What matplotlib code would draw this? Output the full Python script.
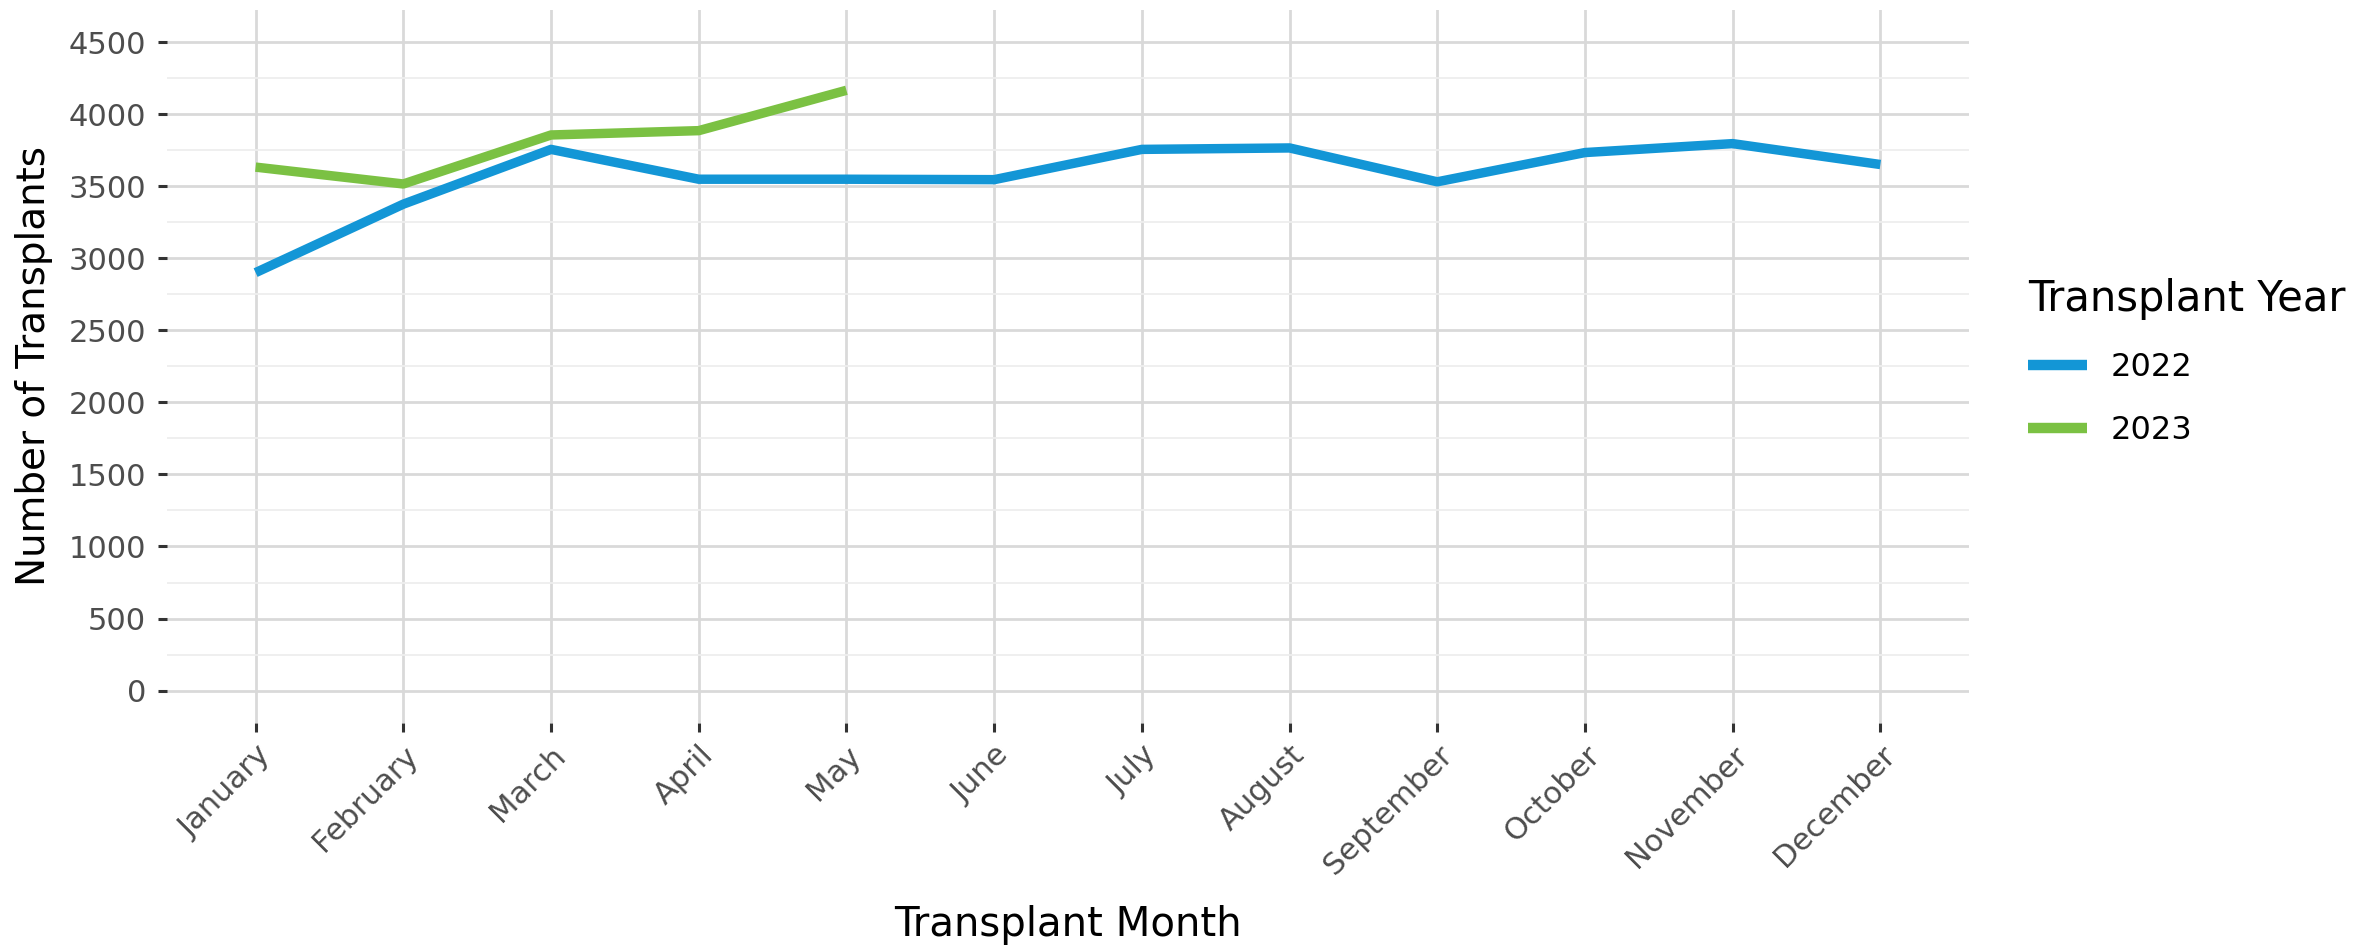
import matplotlib
matplotlib.use("Agg")
import matplotlib.pyplot as plt
import numpy as np

months = ["January", "February", "March", "April", "May", "June", "July",
          "August", "September", "October", "November", "December"]
counts_2022 = [2900, 3375, 3755, 3548, 3548, 3545, 3755, 3765, 3530, 3733, 3795, 3650]
counts_2023 = [3632, 3515, 3855, 3885, 4165]
years = ["2022", "2023"]
colors = ["#1396d6", "#7bc143"]
y_ticks = list(range(0, 4501, 500))

plt.rcParams['font.family'] = ['DejaVu Sans']

fig = plt.figure(figsize=(23.72, 9.48), dpi=100)
ax = fig.add_axes([0.0704, 0.2373, 0.7597, 0.7526])

x = np.arange(len(months))
for yr, vals, col in zip(years, [counts_2022, counts_2023], colors):
    ax.plot(x[:len(vals)], vals, color=col, lw=6.8, label=yr,
            solid_capstyle='butt', solid_joinstyle='round', zorder=3)

ax.set_xlim(-0.6, len(months) - 1 + 0.6)
ax.set_ylim(-225, 4725)
ax.set_xticks(x)
ax.set_xticklabels(months, rotation=45, ha='right', va='top', rotation_mode='anchor')
ax.set_yticks(y_ticks)
ax.set_yticks([v + 250 for v in y_ticks[:-1]], minor=True)

# ggplot minimal-ish look
for s in ax.spines.values():
    s.set_visible(False)
ax.grid(which='major', axis='both', color='#d9d9d9', lw=2.0)
ax.grid(which='minor', axis='y', color='#eeeeee', lw=1.3)
ax.set_axisbelow(True)
ax.tick_params(axis='both', which='major', length=6.5, width=2.2, color='#333333',
               labelsize=22, labelcolor='#4d4d4d')
ax.tick_params(axis='y', pad=8.5)
ax.tick_params(axis='x', pad=6)
ax.tick_params(which='minor', length=0)

ax.set_xlabel("Transplant Month", fontsize=29, va='top')
ax.xaxis.set_label_coords(0.5, -0.255)
ax.set_ylabel("Number of Transplants", fontsize=28)
ax.yaxis.set_label_coords(-0.0633, 0.5)

leg = ax.legend(title="Transplant Year", loc='upper left',
                bbox_to_anchor=(2028 / 2372, 1 - 278 / 948), bbox_transform=fig.transFigure,
                frameon=False, fontsize=23, title_fontsize=30, alignment='left',
                handlelength=1.85, handletextpad=0.75, labelspacing=1.0,
                borderpad=0, borderaxespad=0)
for h in leg.get_lines():
    h.set_linewidth(7.5)

plt.savefig("out.png", facecolor='w', edgecolor='w')
